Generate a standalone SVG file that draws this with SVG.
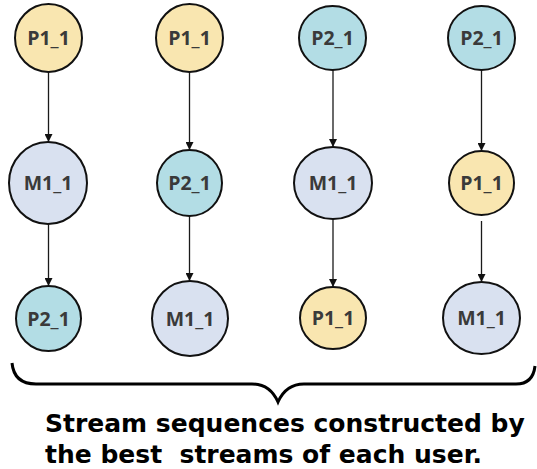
<svg xmlns="http://www.w3.org/2000/svg" width="537" height="469" viewBox="0 0 537 469">
<defs>
<marker id="ah" viewBox="0 0 10 10" refX="10" refY="5" markerWidth="8" markerHeight="8" markerUnits="userSpaceOnUse" orient="auto">
<path d="M0,0 L10,5 L0,10 Z" fill="#111"/>
</marker>
<style>
.n{stroke:#111;stroke-width:2}
.p1{fill:#F9E6B0}
.p2{fill:#B3DDE5}
.m1{fill:#D9E1F0}
.t{font-family:"Open Sans","DejaVu Sans",sans-serif;font-weight:bold;font-size:19.5px;fill:#3a3a3a;text-anchor:middle}
.e{stroke:#1a1a1a;stroke-width:1.3;fill:none;marker-end:url(#ah)}
.cap{font-family:"DejaVu Sans",Verdana,sans-serif;font-weight:bold;font-size:25px;fill:#000;white-space:pre}
</style>
</defs>
<rect width="537" height="469" fill="#fff"/>
<g id="connectors">
<line class="e" x1="48.5" y1="72" x2="48.5" y2="142"/>
<line class="e" x1="48.5" y1="224" x2="48.5" y2="286"/>
<line class="e" x1="189.5" y1="72" x2="189.5" y2="150"/>
<line class="e" x1="189.5" y1="216" x2="189.5" y2="281"/>
<line class="e" x1="333" y1="70" x2="333" y2="147"/>
<line class="e" x1="333" y1="219" x2="333" y2="287"/>
<line class="e" x1="481.5" y1="70" x2="481.5" y2="151"/>
<line class="e" x1="481.5" y1="221" x2="481.5" y2="282"/>
</g>
<g id="c1_top"><ellipse class="n p1" cx="48.5" cy="38" rx="33.5" ry="34"/><text class="t" x="48.5" y="45">P1_1</text></g>
<g id="c1_mid"><ellipse class="n m1" cx="48" cy="183" rx="39" ry="41"/><text class="t" x="48" y="190">M1_1</text></g>
<g id="c1_bot"><ellipse class="n p2" cx="48.5" cy="318.5" rx="32.5" ry="32.5"/><text class="t" x="48.5" y="325.5">P2_1</text></g>
<g id="c2_top"><ellipse class="n p1" cx="189.5" cy="38" rx="33.5" ry="34"/><text class="t" x="189.5" y="45">P1_1</text></g>
<g id="c2_mid"><ellipse class="n p2" cx="189.5" cy="183" rx="32.5" ry="33"/><text class="t" x="189.5" y="190">P2_1</text></g>
<g id="c2_bot"><ellipse class="n m1" cx="190" cy="318.5" rx="38" ry="37.5"/><text class="t" x="190" y="325.5">M1_1</text></g>
<g id="c3_top"><ellipse class="n p2" cx="332.5" cy="38" rx="33.5" ry="32"/><text class="t" x="332.5" y="45">P2_1</text></g>
<g id="c3_mid"><ellipse class="n m1" cx="333" cy="183" rx="39" ry="36"/><text class="t" x="333" y="190">M1_1</text></g>
<g id="c3_bot"><ellipse class="n p1" cx="333" cy="318" rx="33" ry="31"/><text class="t" x="333" y="325">P1_1</text></g>
<g id="c4_top"><ellipse class="n p2" cx="481.5" cy="38" rx="33.5" ry="32"/><text class="t" x="481.5" y="45">P2_1</text></g>
<g id="c4_mid"><ellipse class="n p1" cx="481.5" cy="183" rx="32.5" ry="32"/><text class="t" x="481.5" y="190">P1_1</text></g>
<g id="c4_bot"><ellipse class="n m1" cx="481.5" cy="318" rx="38.5" ry="36"/><text class="t" x="481.5" y="325">M1_1</text></g>
<g id="brace">
<path d="M12,363 Q14,384 36,384 L252,384 Q270,384 278,402 Q286,384 304,384 L516,384 Q533,384 535,366" fill="none" stroke="#000" stroke-width="3"/>
</g>
<g id="caption">
<text class="cap" x="45" y="432">Stream sequences constructed by</text>
<text class="cap" x="45" y="463" xml:space="preserve">the best  streams of each user.</text>
</g>
</svg>
